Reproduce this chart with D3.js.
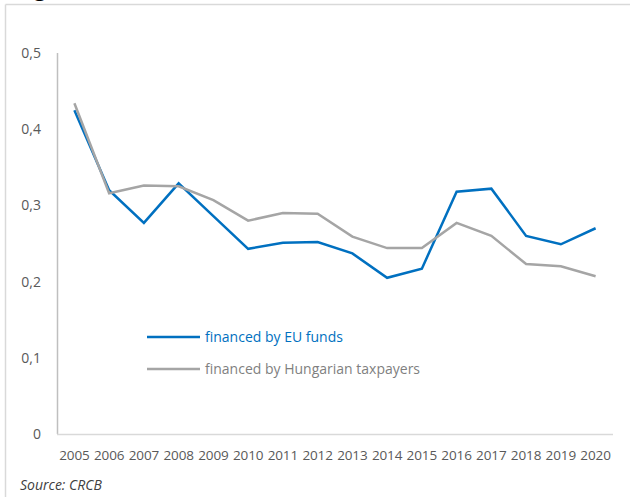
<!DOCTYPE html>
<html><head><meta charset="utf-8">
<script src="https://cdn.jsdelivr.net/npm/d3@7"></script>
<style>
body{margin:0;background:#fff;}
svg{display:block;}
text{font-family:"Open Sans","Liberation Sans",sans-serif;}
</style></head>
<body>
<svg id="c" width="630" height="497"></svg>
<script>
const years = ["2005","2006","2007","2008","2009","2010","2011","2012","2013","2014","2015","2016","2017","2018","2019","2020"];
const euFunds = [0.425,0.320,0.277,0.329,0.286,0.243,0.251,0.252,0.237,0.205,0.217,0.318,0.322,0.260,0.249,0.270];
const hunTax = [0.434,0.316,0.326,0.325,0.307,0.280,0.290,0.289,0.259,0.244,0.244,0.277,0.260,0.223,0.220,0.207];
const yTicks = [0,0.1,0.2,0.3,0.4,0.5];
const tickLabels = ["0","0,1","0,2","0,3","0,4","0,5"];
const seriesNames = ["financed by EU funds","financed by Hungarian taxpayers"];
const seriesColors = ["#0070C0","#A5A5A5"];
const legendTextColors = ["#0070C0","#7F7F7F"];

const svg = d3.select("#c");
// frame
svg.append("line").attr("x1",5.5).attr("x2",630).attr("y1",4.5).attr("y2",4.5).attr("stroke","#d9d9d9").attr("stroke-width",1.5);
svg.append("line").attr("x1",5.5).attr("x2",5.5).attr("y1",4.5).attr("y2",497).attr("stroke","#d9d9d9").attr("stroke-width",1.5);
// cut-off title glyph (descender only visible, as in the reference)
svg.append("text").attr("x",34).attr("y",-4).attr("font-size",22).attr("fill","#000").text("g");

const x = d3.scalePoint().domain(years).range([74.4,595.6]);
const y = d3.scaleLinear().domain([0,0.5]).range([434,53]);

// y axis line
svg.append("line").attr("x1",57.5).attr("x2",57.5).attr("y1",y(0.5)).attr("y2",y(0)).attr("stroke","#BFBFBF").attr("stroke-width",1.5);
// x axis line
svg.append("line").attr("x1",57).attr("x2",613).attr("y1",y(0)+0.5).attr("y2",y(0)+0.5).attr("stroke","#D9D9D9").attr("stroke-width",1.5);

// y tick labels
svg.append("g").selectAll("text").data(yTicks).join("text")
  .attr("x",41).attr("y",d=>y(d)).attr("dy","0.35em").attr("text-anchor","end")
  .attr("font-size",14).attr("fill","#595959").text((d,i)=>tickLabels[i]);

// x labels
svg.append("g").selectAll("text").data(years).join("text")
  .attr("x",d=>x(d)).attr("y",460).attr("text-anchor","middle")
  .attr("font-size",13.5).attr("fill","#595959").attr("letter-spacing","-0.1").text(d=>d);

const line = d3.line().x((d,i)=>x(years[i])).y(d=>y(d));
[euFunds,hunTax].forEach((s,k)=>{
  svg.append("path").datum(s).attr("d",line).attr("fill","none")
    .attr("stroke",seriesColors[k]).attr("stroke-width",2.5).attr("stroke-linejoin","miter");
});
// legend
const legY = [337,369];
seriesNames.forEach((n,k)=>{
  svg.append("line").attr("x1",147).attr("x2",200).attr("y1",legY[k]).attr("y2",legY[k])
    .attr("stroke",seriesColors[k]).attr("stroke-width",2.5);
  svg.append("text").attr("x",205).attr("y",legY[k]).attr("dy","0.35em")
    .attr("font-size",14).attr("fill",legendTextColors[k]).text(n);
});

svg.append("text").attr("x",20).attr("y",490).attr("font-size",14).attr("font-style","italic")
  .attr("fill","#404040").text("Source: CRCB");
</script>
</body></html>
